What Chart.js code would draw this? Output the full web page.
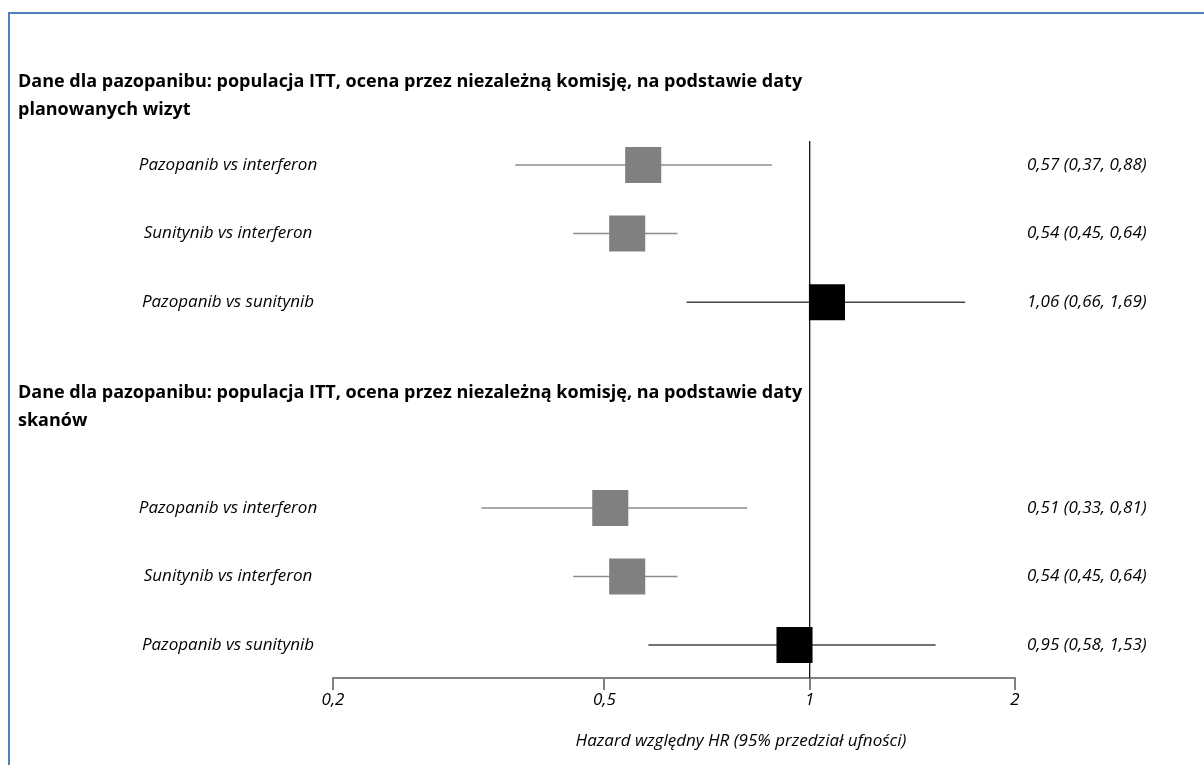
<!DOCTYPE html>
<html>
<head>
<meta charset="utf-8">
<script src="https://cdn.jsdelivr.net/npm/chart.js@4.4.0/dist/chart.umd.min.js"></script>
<style>
    html, body { margin: 0; padding: 0; background: #fff; }
    #wrap { position: relative; width: 1204px; height: 765px; overflow: hidden; }
    #frame { position: absolute; left: 8px; top: 12px; width: 1400px; height: 900px;
             border-left: 2px solid #4f81bd; border-top: 2px solid #4f81bd; }
    .hdr { position: absolute; left: 18px; font: bold 18px "Open Sans", sans-serif; line-height: 28px; color: #000; }
    #xTitle { position: absolute; left: 541px; width: 400px; top: 728px; text-align: center;
              font: italic 17px "Open Sans", sans-serif; line-height: 24px; color: #000; }
    canvas { position: absolute; left: 0; top: 0; }
</style>
</head>
<body>
<div id="wrap">
    <div id="frame"></div>
    <canvas id="forestCanvas" width="1204" height="765"></canvas>
    <div class="hdr" id="hdr1" style="top:66px"></div>
    <div class="hdr" id="hdr2" style="top:377px"></div>
    <div id="xTitle"></div>
</div>
<script>
// Rows of the forest plot (two sections of three comparisons)
const comparisons = ['Pazopanib vs interferon', 'Sunitynib vs interferon', 'Pazopanib vs sunitynib',
                     'Pazopanib vs interferon', 'Sunitynib vs interferon', 'Pazopanib vs sunitynib'];
const rowPos = [0, 1, 2, 5, 6, 7];
const hr = [0.57, 0.54, 1.06, 0.51, 0.54, 0.95];
const lower = [0.37, 0.45, 0.66, 0.33, 0.45, 0.58];
const upper = [0.88, 0.64, 1.69, 0.81, 0.64, 1.53];
const indirect = [false, false, true, false, false, true];
const xTicks = [0.2, 0.5, 1, 2];
const sectionTitles = [
    'Dane dla pazopanibu: populacja ITT, ocena przez niezależną komisję, na podstawie daty<br>planowanych wizyt',
    'Dane dla pazopanibu: populacja ITT, ocena przez niezależną komisję, na podstawie daty<br>skanów'
];
const axisTitle = 'Hazard względny HR (95% przedział ufności)';

document.getElementById('hdr1').innerHTML = sectionTitles[0];
document.getElementById('hdr2').innerHTML = sectionTitles[1];
document.getElementById('xTitle').textContent = axisTitle;

const yMin = -0.35, yMax = 7.48;
const fmt = v => v.toFixed(2).replace('.', ',');
const hrLabels = hr.map((v, i) => fmt(v) + ' (' + fmt(lower[i]) + ', ' + fmt(upper[i]) + ')');

const datasets = [];

// confidence interval lines
rowPos.forEach((y, i) => {
    datasets.push({
        type: 'scatter',
        data: [{ x: lower[i], y: y }, { x: upper[i], y: y }],
        showLine: true,
        borderColor: indirect[i] ? '#454545' : '#8c8c8c',
        borderWidth: 1.5,
        pointRadius: 0,
        order: 2
    });
});

// squares for point estimates
datasets.push({
    type: 'scatter',
    data: rowPos.map((y, i) => ({ x: hr[i], y: y })),
    pointStyle: 'rect',
    pointRadius: 25.5,
    borderWidth: 0,
    backgroundColor: indirect.map(d => d ? '#000000' : '#808080'),
    order: 0
});

// line of no effect at HR = 1
datasets.push({
    type: 'scatter',
    data: [{ x: 1, y: yMin }, { x: 1, y: yMax }],
    showLine: true,
    borderColor: '#000',
    borderWidth: 1.2,
    pointRadius: 0,
    order: 1
});

const labelFont = { family: 'Open Sans', style: 'italic', size: 17 };

const ctx = document.getElementById('forestCanvas').getContext('2d');

// centre the comparison names around x = 228
ctx.font = 'italic 17px "Open Sans"';
const widest = Math.max(...comparisons.map(t => ctx.measureText(t).width));
const leftPad = 333 - 228 - widest / 2;

const chart = new Chart(ctx, {
    type: 'scatter',
    data: { datasets: datasets },
    options: {
        responsive: false,
        animation: false,
        layout: { padding: { top: 141, left: 0, right: 0, bottom: 0 } },
        plugins: { legend: { display: false }, tooltip: { enabled: false } },
        scales: {
            x: {
                type: 'logarithmic',
                min: 0.2,
                max: 2,
                afterBuildTicks: s => { s.ticks = xTicks.map(v => ({ value: v })); },
                afterFit: s => { s.height = 765 - 678; },
                ticks: {
                    callback: v => String(v).replace('.', ','),
                    font: labelFont, color: '#000', padding: 0,
                    maxRotation: 0, autoSkip: false
                },
                grid: { drawOnChartArea: false, drawTicks: true, tickLength: 12, color: '#808080', lineWidth: 2 },
                border: { display: true, color: '#808080', width: 2 },
                title: { display: false }
            },
            y: {
                type: 'linear', position: 'left', reverse: true, min: yMin, max: yMax,
                afterBuildTicks: s => { s.ticks = rowPos.map(v => ({ value: v })); },
                afterFit: s => { s.width = 333; },
                ticks: {
                    callback: (v, i) => comparisons[i],
                    font: labelFont, color: '#000', crossAlign: 'center', padding: leftPad, autoSkip: false
                },
                grid: { display: false, drawTicks: false },
                border: { display: false }
            },
            y2: {
                type: 'linear', position: 'right', reverse: true, min: yMin, max: yMax,
                afterBuildTicks: s => { s.ticks = rowPos.map(v => ({ value: v })); },
                afterFit: s => { s.width = 1204 - 1015; },
                ticks: {
                    callback: (v, i) => hrLabels[i],
                    font: labelFont, color: '#000', crossAlign: 'near', padding: 12, autoSkip: false
                },
                grid: { display: false, drawTicks: false },
                border: { display: false }
            }
        }
    }
});
</script>
</body>
</html>
